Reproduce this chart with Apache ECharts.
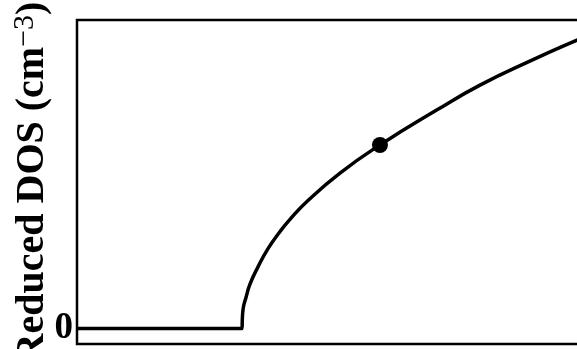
<!DOCTYPE html>
<html>
<head>
<meta charset="utf-8">
<script src="https://cdn.jsdelivr.net/npm/echarts@6/dist/echarts.min.js"></script>
<style>
  html, body { margin: 0; padding: 0; overflow: hidden; background: #fff; }
  #chart { width: 600px; height: 349px; }
</style>
</head>
<body>
<div id="chart"></div>
<script>
// Reduced density of states vs. energy (arbitrary units): zero below the band edge, rising as a square root above it
const energy = [0, 0.3204, 0.3210, 0.3223, 0.3245, 0.328, 0.3359, 0.3515, 0.3709, 0.394, 0.4136, 0.4485, 0.5107, 0.5883, 0.6984, 0.7825, 0.8835, 0.9709, 1.0];
const dos    = [0, 0,      0.030,  0.060,  0.080,  0.100, 0.144,  0.200,  0.259,  0.314, 0.354,  0.415,  0.504,  0.595,  0.708,  0.789,  0.870,  0.935,  0.955];
// highlighted state on the curve
const markerEnergy = [0.5883];
const markerDos = [0.595];
// y tick labels
const yTickValues = [0];

const serif = '"Liberation Serif", "DejaVu Serif", serif';

const chart = echarts.init(document.getElementById('chart'), null, { renderer: 'canvas' });
chart.setOption({
  animation: false,
  grid: {
    left: 77, right: 8, top: 20, bottom: 5,
    outerBoundsMode: 'none',
    containLabel: false,
    show: true, borderColor: '#000', borderWidth: 2.5, backgroundColor: 'transparent'
  },
  xAxis: {
    type: 'value', min: 0, max: 1,
    axisLine: { show: false }, axisTick: { show: false },
    axisLabel: { show: false }, splitLine: { show: false }
  },
  yAxis: {
    type: 'value', min: -0.05, max: 1,
    axisLine: { show: false },
    axisTick: { show: false },
    splitLine: { show: false },
    axisLabel: {
      customValues: yTickValues,
      margin: 4,
      color: '#000',
      fontFamily: serif,
      fontWeight: 'bold',
      fontSize: 37
    },
    name: '{b|Reduced DOS (cm}{s|\u22123}{b|)}',
    nameLocation: 'middle',
    nameRotate: 90,
    nameGap: 21,
    nameMoveOverlap: false,
    nameTextStyle: {
      color: '#000',
      rich: {
        b: { fontFamily: serif, fontWeight: 'bold', fontSize: 40, color: '#000', lineHeight: 46 },
        s: { fontFamily: serif, fontWeight: 'normal', fontSize: 30, color: '#000', verticalAlign: 'top', lineHeight: 46 }
      }
    }
  },
  series: [
    {
      type: 'line',
      data: energy.map((e, i) => [e, dos[i]]),
      smooth: 0.5,
      symbol: 'none',
      lineStyle: { color: '#000', width: 3.5 },
      z: 2
    },
    {
      type: 'scatter',
      data: markerEnergy.map((e, i) => [e, markerDos[i]]),
      symbol: 'circle',
      symbolSize: 16,
      itemStyle: { color: '#000', opacity: 1 },
      z: 3
    }
  ]
});
</script>
</body>
</html>
